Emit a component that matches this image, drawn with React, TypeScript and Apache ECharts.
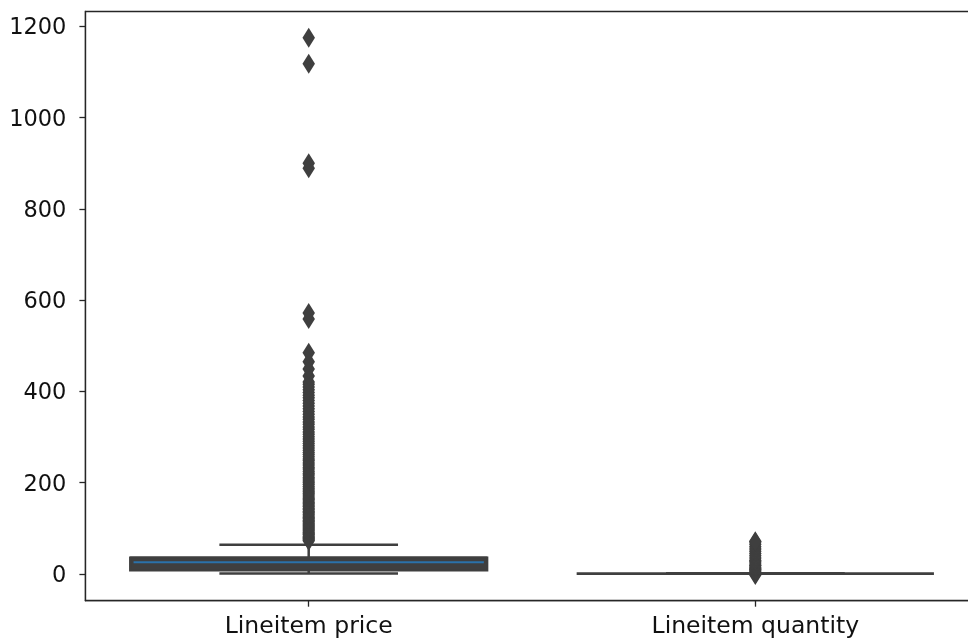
import React, { useEffect, useRef } from "react";
import * as echarts from "echarts";

const categories = ["Lineitem price", "Lineitem quantity"];
const whiskerLow = [1, 1];
const q1 = [7.7, 1];
const median = [25.6, 1];
const q3 = [36, 1];
const whiskerHigh = [64, 1];

const priceOutliers = [
  73, 75, 78, 80, 83, 86, 88, 91, 94, 97, 100, 103, 106, 109, 112, 115, 118,
  121, 124, 127, 131, 134, 137, 141, 144, 148, 151, 155, 158, 162, 165, 169,
  173, 177, 180, 184, 188, 192, 196, 200, 204, 208, 212, 217, 221, 225, 230,
  234, 239, 243, 248, 252, 257, 262, 266, 271, 276, 281, 286, 291, 296, 301,
  306, 311, 317, 322, 328, 333, 339, 344, 350, 356, 362, 368, 374, 380, 386,
  392, 398, 404, 410, 416, 421, 434, 449, 465, 485, 559, 572, 889, 900, 1118,
  1175,
];
const quantityOutliers = [
  -2, 0, 3, 5, 8, 10, 12, 15, 18, 20, 24, 28, 30, 35, 40, 45, 50, 55, 60, 65,
  70, 72,
];

const yTicks = [0, 200, 400, 600, 800, 1000, 1200];

const DARK = "#3f3f3f";
const AXIS = "#262626";
const MEDIAN = "#2b72aa";
const FONT = "DejaVu Sans";
const TEXT = "#111111";
const CHART_W = 990;

export default function App() {
  const ref = useRef<HTMLDivElement>(null);
  useEffect(() => {
    if (!ref.current) return;
    const chart = echarts.init(ref.current, undefined, { renderer: "svg" });
    const boxData = categories.map((_, i) => [
      i,
      whiskerLow[i],
      q1[i],
      median[i],
      q3[i],
      whiskerHigh[i],
    ]);
    const outlierData: number[][] = [];
    priceOutliers.forEach((v) => outlierData.push([0, v]));
    quantityOutliers.forEach((v) => outlierData.push([1, v]));

    chart.setOption({
      animation: false,
      grid: {
        left: 85.4,
        right: CHART_W - 978.6,
        top: 11.5,
        bottom: 39.3,
        show: true,
        borderColor: AXIS,
        borderWidth: 1.3,
        backgroundColor: "transparent",
      },
      xAxis: {
        type: "category",
        data: categories,
        boundaryGap: true,
        axisLine: {
          show: true,
          onZero: false,
          lineStyle: { color: AXIS, width: 1.3 },
        },
        axisTick: {
          show: true,
          alignWithLabel: true,
          length: 6,
          lineStyle: { color: AXIS, width: 1.3 },
        },
        axisLabel: {
          fontSize: 23.5,
          fontFamily: FONT,
          color: TEXT,
          margin: 12,
        },
        splitLine: { show: false },
      },
      yAxis: {
        type: "value",
        min: -58.5,
        max: 1232.7,
        axisLine: { show: true, lineStyle: { color: AXIS, width: 1.3 } },
        axisTick: {
          show: true,
          length: 6,
          customValues: yTicks,
          lineStyle: { color: AXIS, width: 1.3 },
        },
        axisLabel: {
          customValues: yTicks,
          formatter: (v: number) => String(v),
          fontSize: 22.5,
          fontFamily: FONT,
          color: TEXT,
          margin: 19,
        },
        splitLine: { show: false },
      },
      series: [
        {
          type: "custom",
          data: boxData,
          encode: { x: 0, y: [1, 2, 3, 4, 5] },
          z: 2,
          renderItem: (params: any, api: any) => {
            const idx = api.value(0);
            const pLow = api.coord([idx, api.value(1)]);
            const pQ1 = api.coord([idx, api.value(2)]);
            const pMed = api.coord([idx, api.value(3)]);
            const pQ3 = api.coord([idx, api.value(4)]);
            const pHigh = api.coord([idx, api.value(5)]);
            const bw = api.size([1, 0])[0] * 0.8;
            const cx = pMed[0];
            const half = bw / 2;
            const capHalf = bw / 4;
            const lw = 2.5;
            const lineStyle = { stroke: DARK, lineWidth: lw, fill: null };
            const boxPts = [
              [cx - half, pQ3[1]],
              [cx + half, pQ3[1]],
              [cx + half, pQ1[1]],
              [cx - half, pQ1[1]],
            ];
            const collapsed = Math.abs(pQ1[1] - pQ3[1]) < 1;
            const children: any[] = [
              {
                type: "line",
                shape: { x1: cx, y1: pQ3[1], x2: cx, y2: pHigh[1] },
                style: lineStyle,
              },
              {
                type: "line",
                shape: { x1: cx, y1: pQ1[1], x2: cx, y2: pLow[1] },
                style: lineStyle,
              },
              {
                type: "line",
                shape: {
                  x1: cx - capHalf,
                  y1: pHigh[1],
                  x2: cx + capHalf,
                  y2: pHigh[1],
                },
                style: lineStyle,
              },
              {
                type: "line",
                shape: {
                  x1: cx - capHalf,
                  y1: pLow[1],
                  x2: cx + capHalf,
                  y2: pLow[1],
                },
                style: lineStyle,
              },
              {
                type: "polygon",
                shape: { points: boxPts },
                style: { fill: DARK, stroke: null },
              },
            ];
            if (!collapsed) {
              children.push({
                type: "line",
                shape: {
                  x1: cx - half + 3.5,
                  y1: pMed[1],
                  x2: cx + half - 3.5,
                  y2: pMed[1],
                },
                style: { stroke: MEDIAN, lineWidth: 2 },
              });
            }
            children.push({
              type: "line",
              shape: { x1: cx - half, y1: pQ3[1], x2: cx + half, y2: pQ3[1] },
              style: { stroke: DARK, lineWidth: collapsed ? 2.8 : 2 },
            });
            if (!collapsed) {
              children.push({
                type: "polygon",
                shape: { points: boxPts },
                style: { fill: null, stroke: DARK, lineWidth: 2 },
              });
            }
            return { type: "group", children };
          },
        },
        {
          type: "scatter",
          data: outlierData,
          symbol: "diamond",
          symbolSize: [12.5, 20],
          itemStyle: { color: DARK, opacity: 1 },
          z: 3,
        },
      ],
    });
    return () => chart.dispose();
  }, []);
  return (
    <div
      ref={ref}
      style={{
        position: "fixed",
        left: 0,
        top: 0,
        width: CHART_W,
        height: 640,
      }}
    />
  );
}
